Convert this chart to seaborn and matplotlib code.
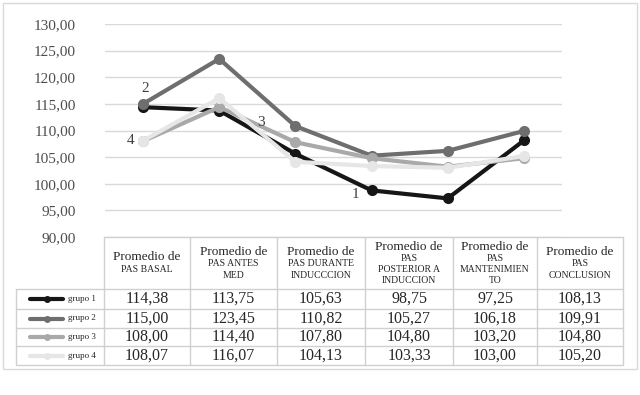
import matplotlib
matplotlib.use('Agg')
import matplotlib.pyplot as plt
import numpy as np
import pandas as pd
import seaborn as sns

# column headers of the data table (uppercase lines under "Promedio de")
HEADER_LINES = [
    ['PAS BASAL'],
    ['PAS ANTES', 'MED'],
    ['PAS DURANTE', 'INDUCCCION'],
    ['PAS', 'POSTERIOR A', 'INDUCCION'],
    ['PAS', 'MANTENIMIEN', 'TO'],
    ['PAS', 'CONCLUSION'],
]
GROUPS = ['grupo 1', 'grupo 2', 'grupo 3', 'grupo 4']
grupo1 = [114.38, 113.75, 105.63, 98.75, 97.25, 108.13]
grupo2 = [115.00, 123.45, 110.82, 105.27, 106.18, 109.91]
grupo3 = [108.00, 114.40, 107.80, 104.80, 103.20, 104.80]
grupo4 = [108.07, 116.07, 104.13, 103.33, 103.00, 105.20]
VALUES = [grupo1, grupo2, grupo3, grupo4]
COLORS = ['#161616', '#6e6e6e', '#a9a9a9', '#e6e6e6']
# point labels: (group index, point index, text, offset px)
POINT_LABELS = [(0, 3, '1', (-16, -4)), (1, 0, '2', (2, 15)),
                (2, 1, '3', (42, -15)), (3, 0, '4', (-13, 0))]

SERIF = ['Liberation Serif', 'DejaVu Serif']
TEXT_COLOR = '#262626'


def fmt(v):
    return f'{v:.2f}'.replace('.', ',')


def build_frame():
    rows = []
    for g, vals in zip(GROUPS, VALUES):
        for i, v in enumerate(vals):
            rows.append({'x': i, 'valor': v, 'grupo': g})
    return pd.DataFrame(rows)


def draw_table(tab):
    col_edges = [104, 190, 277, 365, 453, 537, 623]
    row_edges = [289, 309, 328, 346, 365]
    line_kw = dict(color='#d0d0d0', lw=1)
    tab.plot([104, 623], [237, 237], **line_kw)
    for x in col_edges:
        tab.plot([x, x], [237, 365], **line_kw)
    tab.plot([16, 16], [289, 365], **line_kw)
    for y in row_edges:
        tab.plot([16, 623], [y, y], **line_kw)

    # header texts
    for c, lines in enumerate(HEADER_LINES):
        cx = (col_edges[c] + col_edges[c + 1]) / 2
        n = len(lines) + 1
        y0 = 263 - (n - 1) * 11 / 2
        tab.text(cx, y0, 'Promedio de', ha='center', va='center',
                 fontsize=9.5, family=SERIF, color=TEXT_COLOR)
        for k, s in enumerate(lines):
            tab.text(cx, y0 + 11 * (k + 1) + 1, s, ha='center', va='center',
                     fontsize=7, family=SERIF, color=TEXT_COLOR)

    # value rows
    for r, (g, vals, col) in enumerate(zip(GROUPS, VALUES, COLORS)):
        cy = (row_edges[r] + row_edges[r + 1]) / 2
        tab.plot([30, 63], [cy, cy], color=col, lw=3, solid_capstyle='round')
        tab.plot([47], [cy], marker='o', ms=5, color=col, mew=0)
        tab.text(68, cy, g, ha='left', va='center', fontsize=6.5,
                 family=SERIF, color=TEXT_COLOR)
        for c, v in enumerate(vals):
            cx = (col_edges[c] + col_edges[c + 1]) / 2
            tab.text(cx, cy, fmt(v), ha='center', va='center', fontsize=11.5,
                     family=SERIF, color=TEXT_COLOR)


def main():
    sns.set_style('white')
    plt.rcParams['font.family'] = SERIF
    df = build_frame()

    fig = plt.figure(figsize=(6.4, 3.95), dpi=100)
    overlay = fig.add_axes([0, 0, 1, 1], zorder=0)
    overlay.set_xlim(0, 640)
    overlay.set_ylim(395, 0)
    overlay.axis('off')
    overlay.add_patch(plt.Rectangle((3, 3), 634, 366, fill=False,
                                    ec='#d9d9d9', lw=1))
    draw_table(overlay)

    ax = fig.add_axes([105 / 640, 1 - 237 / 395, 457 / 640, 213 / 395], zorder=1)
    ax.patch.set_alpha(0)
    sns.lineplot(data=df, x='x', y='valor', hue='grupo', palette=COLORS,
                 marker='o', markersize=8, markeredgewidth=0, linewidth=3,
                 legend=False, ax=ax)
    ax.set_xlim(-0.5, 5.5)
    ax.set_ylim(90, 130)
    ax.set_yticks(np.arange(90, 131, 5))
    ax.set_yticklabels([fmt(v) for v in np.arange(90, 131, 5)])
    ax.set_xticks([])
    ax.set_xlabel('')
    ax.set_ylabel('')
    ax.tick_params(axis='y', length=0, pad=21, labelsize=11, labelcolor='#4d4d4d')
    ax.yaxis.grid(True, color='#d9d9d9', lw=1)
    ax.set_axisbelow(True)
    for s in ax.spines.values():
        s.set_visible(False)

    for gi, pi, txt, off in POINT_LABELS:
        ax.annotate(txt, (pi, VALUES[gi][pi]), xytext=off,
                    textcoords='offset pixels', ha='center', va='center',
                    fontsize=11, color='#404040')

    fig.savefig('out.png', dpi=100)


if __name__ == '__main__':
    main()
